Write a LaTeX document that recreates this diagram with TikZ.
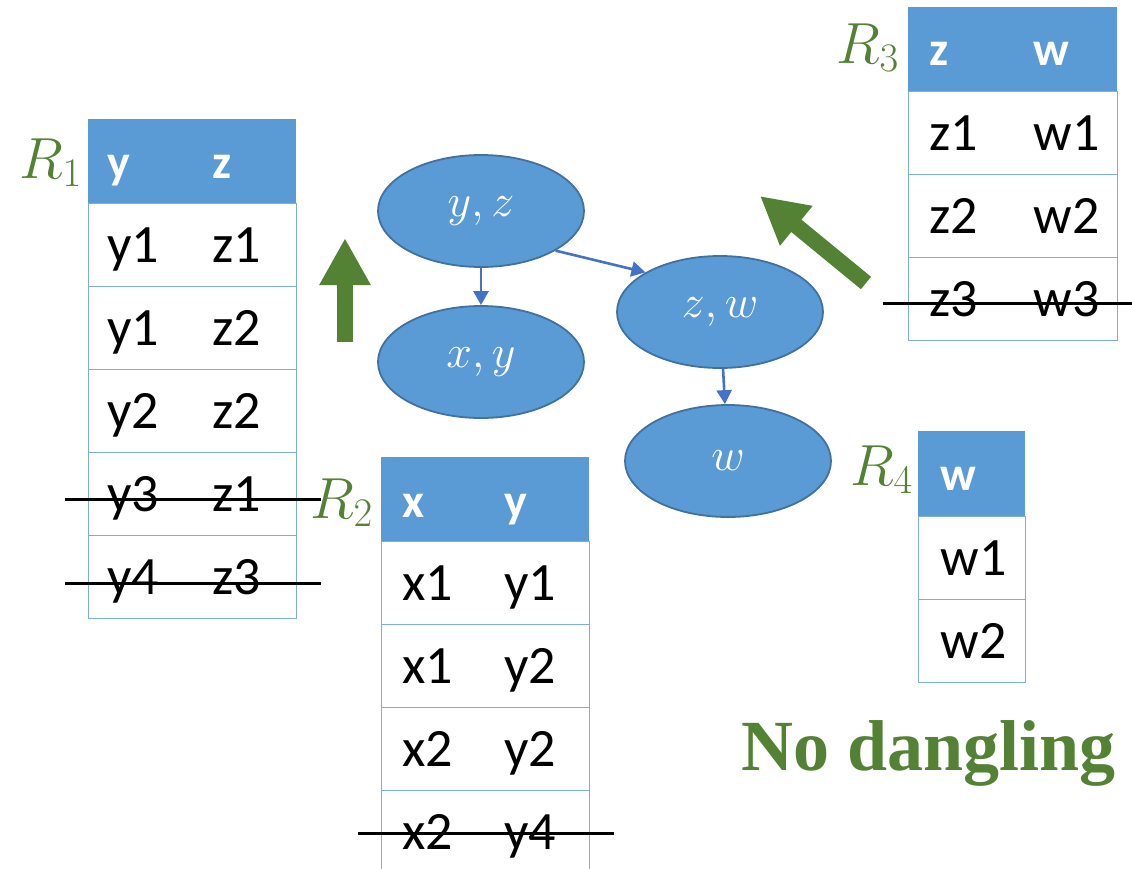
\RequirePackage{fix-cm}
\documentclass[tikz,border=0pt]{standalone}
\usepackage{fontspec}
\setmainfont{Carlito}
\newfontfamily\titlefont{Liberation Serif}
\usepackage{tikz}
\usetikzlibrary{arrows.meta,positioning,calc,shapes}
\definecolor{hdrblue}{RGB}{91,155,213}
\definecolor{gridblue}{RGB}{125,172,224}
\definecolor{ellborder}{RGB}{65,113,156}
\definecolor{linkblue}{RGB}{68,114,196}
\definecolor{relgreen}{RGB}{84,130,53}
\newcommand{\cellfont}{\fontsize{27}{32}\selectfont}
\newcommand{\hdrfont}{\fontsize{24}{28}\selectfont\bfseries}
\tikzset{
  hdrcell/.style={fill=hdrblue, anchor=north west, inner sep=0pt, minimum height=42pt},
  rowcell/.style={draw=gridblue, line width=0.6pt, fill=white, anchor=north west,
    inner sep=0pt, minimum height=41.5pt},
  celltxt/.style={anchor=base west, inner sep=0pt, font=\cellfont},
  hdrtxt/.style={anchor=base west, inner sep=0pt, font=\hdrfont, text=white},
  rellabel/.style={anchor=base west, inner sep=0pt, text=relgreen,
    font=\fontsize{29}{34}\selectfont},
  attr/.style={ellipse, fill=hdrblue, draw=ellborder, line width=0.9pt,
    minimum width=103pt, minimum height=56pt, inner sep=0pt, text=white,
    font=\fontsize{23}{27}\selectfont},
  link/.style={-{Triangle[length=7pt,width=7.5pt]}, line width=1.3pt, linkblue},
  strikeln/.style={line width=1.2pt, black},
  fatarrow/.style={-{Triangle[length=23.5pt,width=24pt]}, line width=8pt, relgreen},
}
\begin{document}
\begin{tikzpicture}[x=0.5pt,y=-0.5pt]
    \useasboundingbox (0,0) rectangle (1132,869);
    \clip (0,0) rectangle (1132,869);
    % R1
    \node[hdrcell, minimum width=104pt] (r1h) at (88,119) {};
    \node[hdrtxt] (r1ha) at (107,178) {y};
    \node[hdrtxt] (r1hb) at (212,178) {z};
    \foreach \a/\b [count=\i] in {y1/z1,y1/z2,y2/z2,y3/z1,y4/z3}
    {
      \node[rowcell, minimum width=104pt] (r1r\i) at (88,{203+83*(\i-1)}) {};
      \node[celltxt] (r1a\i) at (107,{262+83*(\i-1)}) {\a};
      \node[celltxt] (r1b\i) at (212,{262+83*(\i-1)}) {\b};
    }
    \node[rellabel] (lr1) at (19,178) {$R_1$};
    % R2
    \node[hdrcell, minimum width=104pt] (r2h) at (381,457) {};
    \node[hdrtxt] (r2ha) at (402,517) {x};
    \node[hdrtxt] (r2hb) at (504,517) {y};
    \foreach \a/\b [count=\i] in {x1/y1,x1/y2,x2/y2,x2/y4}
    {
      \node[rowcell, minimum width=104pt] (r2r\i) at (381,{541+83*(\i-1)}) {};
      \node[celltxt] (r2a\i) at (402,{600+83*(\i-1)}) {\a};
      \node[celltxt] (r2b\i) at (504,{600+83*(\i-1)}) {\b};
    }
    \node[rellabel] (lr2) at (310,518) {$R_2$};
    % R3
    \node[hdrcell, minimum width=104.5pt] (r3h) at (908,7) {};
    \node[hdrtxt] (r3ha) at (929,65) {z};
    \node[hdrtxt] (r3hb) at (1033,65) {w};
    \foreach \a/\b [count=\i] in {z1/w1,z2/w2,z3/w3}
    {
      \node[rowcell, minimum width=104.5pt] (r3r\i) at (908,{91+83*(\i-1)}) {};
      \node[celltxt] (r3a\i) at (929,{150+83*(\i-1)}) {\a};
      \node[celltxt] (r3b\i) at (1033,{150+83*(\i-1)}) {\b};
    }
    \node[rellabel] (lr3) at (836,63) {$R_3$};
    % R4
    \node[hdrcell, minimum width=53.5pt, minimum height=42.5pt] (r4h) at (918,431) {};
    \node[hdrtxt] (r4ha) at (940,490) {w};
    \foreach \a [count=\i] in {w1,w2}
    {
      \node[rowcell, minimum width=53.5pt] (r4r\i) at (918,{516+83*(\i-1)}) {};
      \node[celltxt] (r4a\i) at (940,{575+83*(\i-1)}) {\a};
    }
    \node[rellabel] (lr4) at (850,485) {$R_4$};
    % dangling tuples struck out
    \draw[strikeln] ([xshift=-11.5pt,yshift=-2.75pt]r1r4.west) -- ([xshift=12pt,yshift=-2.75pt]r1r4.east);
    \draw[strikeln] ([xshift=-11.5pt,yshift=-3.25pt]r1r5.west) -- ([xshift=12pt,yshift=-3.25pt]r1r5.east);
    \draw[strikeln] ([xshift=-11.5pt,yshift=-0.75pt]r2r4.west) -- ([xshift=12pt,yshift=-0.75pt]r2r4.east);
    \draw[strikeln] ([xshift=-12.5pt,yshift=-2.25pt]r3r3.west) -- ([xshift=20pt,yshift=-2.25pt]r3r3.east);
    % join tree
    \node[attr] (yz) at (481,211) {$y,z$};
    \node[attr] (xy) at (481,362) {$x,y$};
    \node[attr] (zw) at (720,312) {$z,w$};
    \node[attr] (w) at (728,461) {$w$};
    \draw[link] (yz) -- (xy);
    \draw[link] (yz.-28) -- (zw.152);
    \draw[link] (zw) -- (w);
    % semijoin passes
    \coordinate (uptail) at (345,342);
    \coordinate (uptip) at (345,238);
    \draw[fatarrow] (uptail) -- (uptip);
    \coordinate (dgtail) at (866,283);
    \coordinate (dgtip) at (760,196);
    \draw[fatarrow] (dgtail) -- (dgtip);
    \node[anchor=base west, inner sep=0pt, text=relgreen,
      font=\titlefont\bfseries\fontsize{36}{40}\selectfont] (nodangle) at (741,770) {No dangling};
  \end{tikzpicture}
\end{document}
